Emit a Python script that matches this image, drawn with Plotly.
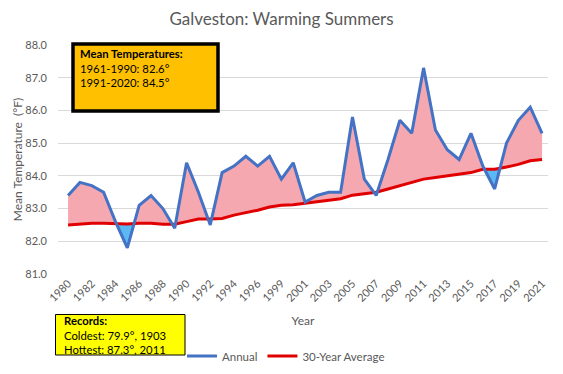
import numpy as np
import plotly.graph_objects as go

years = [str(y) for y in list(range(1980, 1998)) + list(range(1999, 2022))]
annual = [83.4, 83.8, 83.7, 83.5, 82.6, 81.8, 83.1, 83.4, 83.0, 82.4,
          84.4, 83.5, 82.5, 84.1, 84.3, 84.6, 84.3, 84.6, 83.9, 84.4,
          83.2, 83.4, 83.5, 83.5, 85.8, 83.9, 83.4, 84.5, 85.7, 85.3,
          87.3, 85.4, 84.8, 84.5, 85.3, 84.3, 83.6, 85.0, 85.7, 86.1, 85.3]
avg30 = [82.5, 82.53, 82.55, 82.55, 82.53, 82.53, 82.55, 82.55, 82.52, 82.52,
         82.6, 82.68, 82.68, 82.7, 82.8, 82.87, 82.95, 83.05, 83.1, 83.12,
         83.16, 83.2, 83.25, 83.3, 83.41, 83.45, 83.5, 83.6, 83.7, 83.82,
         83.9, 83.95, 84.0, 84.03, 84.1, 84.2, 84.2, 84.27, 84.35, 84.46, 84.5]
yticks = [81.0, 82.0, 83.0, 84.0, 85.0, 86.0, 87.0, 88.0]
mean_lines = ["<b>Mean Temperatures:</b>", "1961-1990: 82.6°", "1991-2020: 84.5°"]
record_lines = ["<b>Records:</b>", "Coldest: 79.9°, 1903", "Hottest: 87.3°, 2011"]

n = len(years)
x = np.arange(n, dtype=float)
a = np.array(annual)
m = np.array(avg30)

# insert crossing points so the fills switch colour exactly at the crossings
xs, av, mv = [], [], []
for i in range(n):
    xs.append(x[i]); av.append(a[i]); mv.append(m[i])
    if i < n - 1:
        d0 = a[i] - m[i]
        d1 = a[i + 1] - m[i + 1]
        if d0 * d1 < 0:
            t = d0 / (d0 - d1)
            yc = m[i] + t * (m[i + 1] - m[i])
            xs.append(x[i] + t); av.append(yc); mv.append(yc)
xs = np.array(xs); av = np.array(av); mv = np.array(mv)
hi = np.maximum(av, mv)
lo = np.minimum(av, mv)

W, H = 563, 374
ML, MR, MT, MB = 58, 15, 45, 100
PW, PH = W - ML - MR, H - MT - MB


def px(v):
    return (v - ML) / PW


def py(v):
    return (H - MB - v) / PH


fig = go.Figure()
fig.add_trace(go.Scatter(x=xs, y=mv, mode="lines", line=dict(width=0),
                         showlegend=False, hoverinfo="skip"))
fig.add_trace(go.Scatter(x=xs, y=hi, mode="lines", line=dict(width=0),
                         fill="tonexty", fillcolor="#F6A8B0",
                         showlegend=False, hoverinfo="skip"))
fig.add_trace(go.Scatter(x=xs, y=mv, mode="lines", line=dict(width=0),
                         showlegend=False, hoverinfo="skip"))
fig.add_trace(go.Scatter(x=xs, y=lo, mode="lines", line=dict(width=0),
                         fill="tonexty", fillcolor="#5CB9F4",
                         showlegend=False, hoverinfo="skip"))
fig.add_trace(go.Scatter(x=x, y=annual, mode="lines", name="Annual",
                         line=dict(color="#4472C4", width=3), zorder=2))
fig.add_trace(go.Scatter(x=x, y=avg30, mode="lines", name="30-Year Average",
                         line=dict(color="#E00000", width=3), zorder=1))

font_family = "Lato, Carlito, Calibri, sans-serif"

shapes = [
    dict(type="rect", xref="paper", yref="paper", x0=px(73), x1=px(218),
         y0=py(44), y1=py(111), fillcolor="#FFC000",
         line=dict(color="black", width=3.5), layer="above"),
    dict(type="rect", xref="paper", yref="paper", x0=px(55.5), x1=px(185),
         y0=py(314.5), y1=py(355), fillcolor="#FFFF00",
         line=dict(color="black", width=1), layer="above"),
]

annotations = [
    dict(xref="paper", yref="paper", x=px(78), y=py(68), xanchor="left", yanchor="middle",
         text="<br>".join(mean_lines), showarrow=False, align="left",
         font=dict(size=11.3, color="black", family=font_family)),
    dict(xref="paper", yref="paper", x=px(62), y=py(335), xanchor="left", yanchor="middle",
         text="<br>".join(record_lines), showarrow=False, align="left",
         font=dict(size=11.3, color="black", family=font_family)),
]

fig.update_layout(
    width=W, height=H,
    margin=dict(l=ML, r=MR, t=MT, b=MB, autoexpand=False),
    paper_bgcolor="white", plot_bgcolor="white",
    font=dict(family=font_family, color="#595959", size=11),
    title=dict(text="Galveston: Warming Summers", x=0.5, xanchor="center",
               y=1 - 19 / H, yanchor="middle",
               font=dict(size=17, color="#595959", family=font_family)),
    showlegend=True,
    legend=dict(orientation="h", x=px(182), xanchor="left", y=py(356), yanchor="middle",
                font=dict(size=11.5, color="#595959"), bgcolor="rgba(0,0,0,0)",
                itemwidth=30, traceorder="normal"),
    xaxis=dict(range=[-0.85, 40.5], tickmode="array", tickvals=x[::2].tolist(),
               ticktext=years[::2], tickangle=-45, showgrid=False, zeroline=False,
               showline=False, ticks="", automargin=False,
               tickfont=dict(size=11, color="#595959"),
               title=dict(text="Year", font=dict(size=12, color="#595959"), standoff=13)),
    yaxis=dict(range=[81, 88], tickmode="array", tickvals=yticks,
               ticktext=[f"{v:.1f}" for v in yticks], showgrid=True,
               gridcolor="#D9D9D9", gridwidth=1, zeroline=False, showline=False,
               ticks="", ticklabelstandoff=10, automargin=False,
               tickfont=dict(size=11, color="#595959"),
               title=dict(text="Mean Temperature  (°F)", font=dict(size=12, color="#595959"),
                          standoff=0)),
    shapes=shapes,
    annotations=annotations,
)

fig.write_html("out.html", config={"displayModeBar": False},
               post_script="document.body.style.margin='0';document.body.style.overflow='hidden';")
